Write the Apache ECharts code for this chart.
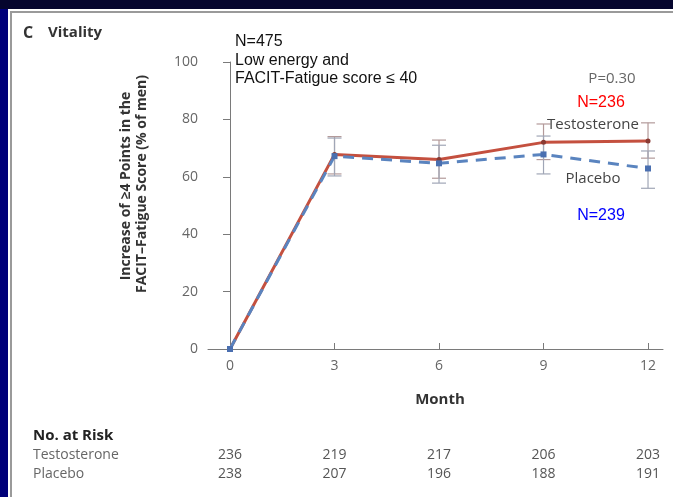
<!DOCTYPE html>
<html>
<head>
<meta charset="utf-8">
<script src="https://cdn.jsdelivr.net/npm/echarts@6/dist/echarts.min.js"></script>
<style>
html,body{margin:0;padding:0;width:673px;height:497px;overflow:hidden;background:#00007a;}
#top{position:absolute;left:0;top:0;width:673px;height:9px;background:#05052e;}
#panel{position:absolute;left:8px;top:9px;width:665px;height:488px;background:#fff;}
#vline{position:absolute;left:10px;top:11px;width:2px;height:486px;background:#9a9a9a;}
#hline{position:absolute;left:10px;top:11px;width:663px;height:2px;background:#9a9a9a;}
#chart{position:absolute;left:0;top:0;width:673px;height:497px;}
</style>
</head>
<body>
<div id="top"></div>
<div id="panel"></div>
<div id="vline"></div>
<div id="hline"></div>
<div id="chart"></div>
<script>
// ---- data ----
var months = [0, 3, 6, 9, 12];
var testosterone = [0, 67.8, 66.0, 72.0, 72.5];
var placebo = [0, 67.2, 64.7, 67.8, 62.9];
var testoLow = [null, 61.0, 59.5, 66.0, 66.5];
var testoHigh = [null, 74.0, 72.8, 78.4, 78.8];
var placeboLow = [null, 60.3, 57.8, 61.0, 56.0];
var placeboHigh = [null, 73.5, 71.0, 74.2, 69.0];
var riskTestosterone = [236, 219, 217, 206, 203];
var riskPlacebo = [238, 207, 196, 188, 191];

var FONT = '"Open Sans", "DejaVu Sans", sans-serif';
var ARIAL = '"Liberation Sans", Arial, sans-serif';

function pairs(xs, ys){ return xs.map(function(x,i){ return [x, ys[i]]; }); }
function errData(xs, lo, hi){
  var out = [];
  xs.forEach(function(x,i){ if (lo[i] != null) out.push([x, lo[i], hi[i]]); });
  return out;
}
function errRender(color){
  return function(params, api){
    var x = api.value(0);
    var p1 = api.coord([x, api.value(1)]);
    var p2 = api.coord([x, api.value(2)]);
    var w = 7;
    var style = {stroke: color, lineWidth: 1.2};
    return {type:'group', children:[
      {type:'line', shape:{x1:p1[0], y1:p1[1], x2:p2[0], y2:p2[1]}, style:style},
      {type:'line', shape:{x1:p1[0]-w, y1:p1[1], x2:p1[0]+w, y2:p1[1]}, style:style},
      {type:'line', shape:{x1:p2[0]-w, y1:p2[1], x2:p2[0]+w, y2:p2[1]}, style:style}
    ]};
  };
}

var chart = echarts.init(document.getElementById('chart'), null, {renderer:'canvas'});
var axisColor = '#7a7a7a';
var option = {
  backgroundColor: 'transparent',
  animation: false,
  grid: {left: 208, top: 62, width: 455, height: 287, containLabel: false},
  xAxis: {
    type: 'value', min: -0.632, max: 12.43,
    axisLine: {show: true, lineStyle: {color: axisColor, width: 1}},
    axisTick: {show: true, inside: true, length: 6, customValues: months, lineStyle: {color: axisColor}},
    axisLabel: {customValues: months, margin: 10, color: '#666', fontSize: 14, fontFamily: FONT},
    splitLine: {show: false}
  },
  yAxis: {
    type: 'value', min: 0, max: 100, interval: 20,
    axisLine: {show: true, lineStyle: {color: axisColor, width: 1}},
    axisTick: {show: true, inside: false, length: 7, lineStyle: {color: axisColor}},
    axisLabel: {margin: 10, color: '#666', fontSize: 14, fontFamily: FONT},
    splitLine: {show: false}
  },
  series: [
    {type:'custom', name:'tErr', renderItem: errRender('#b39a9a'), data: errData(months, testoLow, testoHigh), z: 1, clip: false},
    {type:'custom', name:'pErr', renderItem: errRender('#a0a6b6'), data: errData(months, placeboLow, placeboHigh), z: 1, clip: false},
    {type:'line', name:'Testosterone', data: pairs(months, testosterone),
      lineStyle:{color:'#c4503f', width:3}, itemStyle:{color:'#8a3a32'},
      symbol:'circle', symbolSize:5, showSymbol:true, z: 3},
    {type:'line', name:'Placebo', data: pairs(months, placebo),
      lineStyle:{color:'#5a84bf', width:3, type:[11,8]}, itemStyle:{color:'#4a6fb0'},
      symbol:'rect', symbolSize:6, showSymbol:true, z: 4}
  ]
};
chart.setOption(option);

var g = [];
function txt(x, y, s, opt){
  opt = opt || {};
  g.push({type:'text', x:x, y:y, z:10, style:{
    text:s, fill:opt.color||'#333', font:(opt.weight||'normal')+' '+(opt.size||14)+'px '+(opt.family||FONT),
    textAlign:opt.align||'left', textVerticalAlign:'middle'
  }, rotation: opt.rotation||0});
}
txt(23, 33, 'C', {weight:'bold', size:16, color:'#333'});
txt(48, 33, 'Vitality', {weight:'bold', size:15, color:'#333'});
txt(235, 42, 'N=475', {size:16, family:ARIAL, color:'#111'});
txt(235, 61, 'Low energy and', {size:16, family:ARIAL, color:'#111'});
txt(235, 79, 'FACIT-Fatigue score \u2264 40', {size:16, family:ARIAL, color:'#111'});
txt(612, 79, 'P=0.30', {size:15, color:'#666', align:'center'});
txt(601, 103, 'N=236', {size:16, family:ARIAL, color:'#ff0000', align:'center'});
txt(593, 125, 'Testosterone', {size:15, color:'#444', align:'center'});
txt(593, 179, 'Placebo', {size:15, color:'#444', align:'center'});
txt(601, 216, 'N=239', {size:16, family:ARIAL, color:'#0000ff', align:'center'});
txt(440, 400, 'Month', {weight:'bold', size:15, color:'#333', align:'center'});
txt(126, 186, 'Increase of \u22654 Points in the', {weight:'bold', size:14, color:'#333', align:'center', rotation: Math.PI/2});
txt(142, 184, 'FACIT\u2013Fatigue Score (% of men)', {weight:'bold', size:14, color:'#333', align:'center', rotation: Math.PI/2});
txt(33, 436, 'No. at Risk', {weight:'bold', size:15, color:'#222'});
txt(33, 455, 'Testosterone', {size:14, color:'#666'});
txt(33, 474, 'Placebo', {size:14, color:'#666'});
months.forEach(function(m, i){
  var px = chart.convertToPixel({xAxisIndex:0}, m);
  txt(px, 455, String(riskTestosterone[i]), {size:14, color:'#555', align:'center'});
  txt(px, 474, String(riskPlacebo[i]), {size:14, color:'#555', align:'center'});
});
chart.setOption({graphic: g});
</script>
</body>
</html>
